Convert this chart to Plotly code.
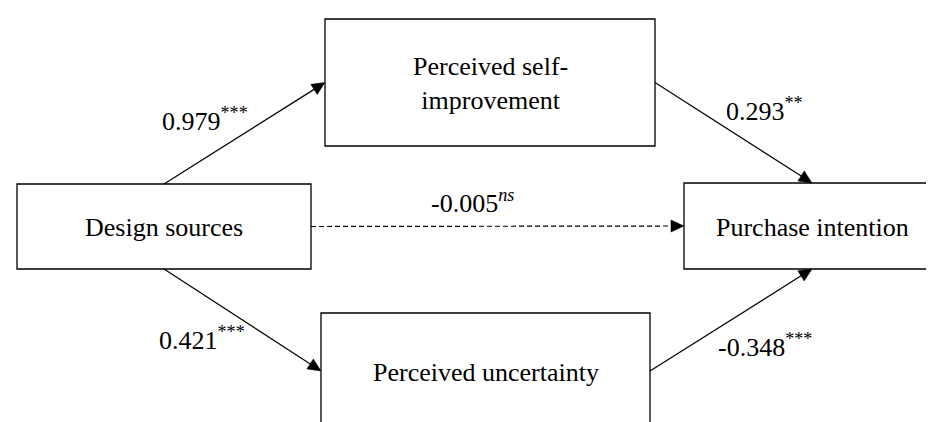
import math
import plotly.graph_objects as go

# ---- data -------------------------------------------------------------
node_labels = ["Design sources", "Perceived self-<br>improvement",
               "Perceived uncertainty", "Purchase intention"]
# edges: (from node, to node)
edge_pairs = [(0, 1), (0, 2), (0, 3), (1, 3), (2, 3)]
edge_coefs = ["0.979", "0.421", "-0.005", "0.293", "-0.348"]
edge_sig = ["***", "***", "<i>ns</i>", "**", "***"]
edge_dashed = [False, False, True, False, False]

# ---- layout geometry (pixel space, y grows downwards) -----------------
W, H = 934, 422
FONT = dict(family="Liberation Serif, Times New Roman, serif", size=26, color="black")
HEAD_LEN, HEAD_W = 13, 12
# x0, x1, y0, y1 for each box (uncertainty box runs off the bottom edge)
BOXES = [
    (9, 303, 176, 261),
    (317, 647, 11, 138),
    (313, 642, 305, 425),
    (676, 932, 175, 261),
]
# which side of the box an edge leaves from / arrives at
EDGE_SIDES = [("top", "left"), ("bottom", "left"), ("right", "left"),
              ("right", "top"), ("right", "bottom")]
# label anchor (left x, middle y)
LABEL_POS = [(152, 111), (149, 330), (421, 193), (716, 101), (708, 337)]


def anchor(box, side):
    x0, x1, y0, y1 = box
    y1 = min(y1, 421)
    cx, cy = (x0 + x1) / 2, (y0 + y1) / 2
    return {"top": (cx, y0), "bottom": (cx, y1),
            "left": (x0, cy), "right": (x1, cy)}[side]


fig = go.Figure()

# ── Boxes ───────────────────────────────────────────────────────────
for (x0, x1, y0, y1), label in zip(BOXES, node_labels):
    fig.add_shape(type="rect", x0=x0, x1=x1, y0=y0, y1=y1,
                  line=dict(color="black", width=1.3), fillcolor="white",
                  layer="below")
    fig.add_annotation(x=(x0 + x1) / 2, y=(y0 + min(y1, 421)) / 2 + 1,
                       text=label, showarrow=False, font=FONT)

# ── Edges: line + filled triangular head ────────────────────────────
for (a, b), (sa, sb), dashed in zip(edge_pairs, EDGE_SIDES, edge_dashed):
    tx, ty = anchor(BOXES[a], sa)
    hx, hy = anchor(BOXES[b], sb)
    dx, dy = hx - tx, hy - ty
    n = math.hypot(dx, dy)
    ux, uy = dx / n, dy / n
    bx, by = hx - HEAD_LEN * ux, hy - HEAD_LEN * uy
    fig.add_shape(type="line", x0=tx, y0=ty, x1=bx + 2 * ux, y1=by + 2 * uy,
                  line=dict(color="black", width=1.2,
                            dash="5px,3px" if dashed else "solid"))
    px, py = -uy * HEAD_W / 2, ux * HEAD_W / 2
    fig.add_shape(type="path",
                  path=f"M{hx},{hy} L{bx + px},{by + py} L{bx - px},{by - py} Z",
                  fillcolor="black", line=dict(color="black", width=0.5))

# ── Coefficient labels ──────────────────────────────────────────────
for (lx, ly), coef, sig in zip(LABEL_POS, edge_coefs, edge_sig):
    fig.add_annotation(x=lx, y=ly, xanchor="left", yanchor="middle",
                       text=f"{coef}<sup>{sig}</sup>", showarrow=False,
                       font=FONT)

fig.update_layout(
    width=W, height=H,
    font=FONT,
    margin=dict(l=0, r=0, t=0, b=0),
    paper_bgcolor="white", plot_bgcolor="white",
    showlegend=False,
)
fig.update_xaxes(range=[0, W], visible=False, fixedrange=True)
fig.update_yaxes(range=[H, 0], visible=False, fixedrange=True)

fig.write_html("out.html")
